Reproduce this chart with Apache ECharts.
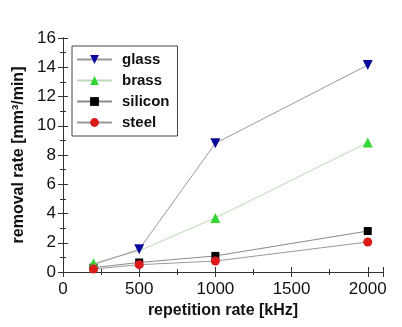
<!DOCTYPE html>
<html><head><meta charset="utf-8">
<script src="https://cdn.jsdelivr.net/npm/echarts@6/dist/echarts.min.js"></script>
<style>html,body{margin:0;padding:0;background:#fff}#c{width:402px;height:327px}</style>
</head><body><div id="c"></div>
<script>
var repRate = [200, 500, 1000, 2000];
var glass = [0.5, 1.55, 8.8, 14.15];
var brass = [0.6, 1.45, 3.7, 8.85];
var silicon = [0.3, 0.65, 1.1, 2.8];
var steel = [0.2, 0.5, 0.75, 2.05];
var seriesNames = ['glass', 'brass', 'silicon', 'steel'];
// markers hidden behind other markers in the reference
var hiddenGlass = [200];
var hiddenBrass = [500];

function pairs(v, hidden){
  return repRate.map(function(x,i){
    var d = {value:[x, v[i]]};
    if (hidden && hidden.indexOf(x) >= 0) d.symbolSize = 0;
    return d;
  });
}

var font = 'Liberation Sans, Arial, sans-serif';
var axisCol = '#333';
function mk(name, data, hidden, sym, rot, col, lineCol, size, z){
  return {name:name, type:'line', data:pairs(data, hidden), symbol:sym, symbolRotate:rot, symbolSize:size,
    itemStyle:{color:col}, lineStyle:{color:lineCol, width:1}, z:z, animation:false};
}
var chart = echarts.init(document.getElementById('c'));
chart.setOption({
  backgroundColor:'#fff',
  animation:false,
  grid:{left:63, top:38, right:19, bottom:55},
  legend:{
    orient:'vertical', left:72, top:46,
    borderColor:'#444', borderWidth:1, padding:[6,8,6,4],
    itemGap:6, itemWidth:35, itemHeight:11,
    textStyle:{fontFamily:font, fontWeight:'bold', fontSize:15, color:'#111', padding:[0,0,0,5]},
    data:seriesNames
  },
  xAxis:[{
    type:'value', min:0, max:2100, interval:500, position:'bottom',
    name:'repetition rate [kHz]', nameLocation:'middle', nameGap:30,
    nameTextStyle:{fontFamily:font, fontWeight:'bold', fontSize:16, color:'#111'},
    axisLine:{lineStyle:{color:axisCol, width:1}},
    axisTick:{inside:true, length:5, lineStyle:{color:axisCol}},
    minorTick:{show:true, splitNumber:2, length:3, lineStyle:{color:axisCol}},
    axisLabel:{fontFamily:font, fontSize:17, color:'#111', margin:9, formatter:function(v){return String(v);}},
    splitLine:{show:false}
  },{
    type:'value', min:0, max:2100, interval:500, position:'top',
    axisLine:{lineStyle:{color:axisCol, width:1}},
    axisTick:{inside:true, length:5, lineStyle:{color:axisCol}},
    minorTick:{show:true, splitNumber:2, length:3, lineStyle:{color:axisCol}},
    axisLabel:{show:false}, splitLine:{show:false}
  }],
  yAxis:[{
    type:'value', min:0, max:16, interval:2, position:'left',
    name:'removal rate [mm³/min]', nameLocation:'middle', nameGap:33,
    nameTextStyle:{fontFamily:font, fontWeight:'bold', fontSize:16, color:'#111'},
    axisLine:{show:true, lineStyle:{color:axisCol, width:1}},
    axisTick:{show:true, inside:true, length:5, lineStyle:{color:axisCol}},
    minorTick:{show:true, splitNumber:2, length:3, lineStyle:{color:axisCol}},
    axisLabel:{fontFamily:font, fontSize:17, color:'#111', margin:7},
    splitLine:{show:false}
  },{
    type:'value', min:0, max:16, interval:2, position:'right',
    axisLine:{show:true, lineStyle:{color:axisCol, width:1}},
    axisTick:{show:true, inside:true, length:5, lineStyle:{color:axisCol}},
    minorTick:{show:true, splitNumber:2, length:3, lineStyle:{color:axisCol}},
    axisLabel:{show:false}, splitLine:{show:false}
  }],
  series:[
    mk('glass', glass, hiddenGlass, 'triangle', 180, '#0a0a9a', '#999999', 10, 4),
    mk('brass', brass, hiddenBrass, 'triangle', 0, '#33d633', '#b9d9b2', 10, 3),
    mk('silicon', silicon, null, 'rect', 0, '#000000', '#8a8a8a', 8, 2),
    mk('steel', steel, null, 'circle', 0, '#dd1a1a', '#999999', 9, 5)
  ]
});
</script></body></html>
